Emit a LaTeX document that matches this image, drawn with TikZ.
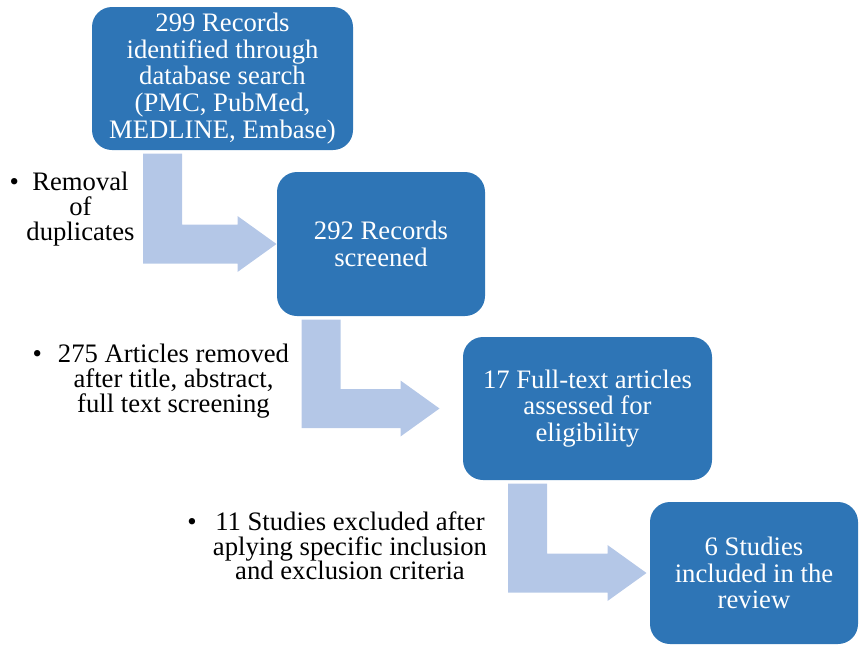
\documentclass[tikz,border=0pt]{standalone}
\usepackage{fontspec}
\setmainfont{Liberation Serif}
\usetikzlibrary{calc}

\definecolor{stageblue}{RGB}{46,117,182}
\definecolor{arrowblue}{RGB}{180,199,231}

\tikzset{every picture/.style={line width=0.75pt}}
\tikzset{
  stage/.style={fill=stageblue, rounded corners=15pt, text=white, align=center,
    inner sep=0pt, font=\fontsize{20}{20}\selectfont},
  note/.style={align=center, inner sep=0pt, font=\fontsize{20}{18.5}\selectfont},
  bentarrow/.style={fill=arrowblue, draw=none}
}

% fat L-shaped arrow: from below #1 round to the left side of #2, tip #3 short of it
\newcommand{\stagearrow}[3]{%
  \fill[bentarrow] ($(#1.south)+(-79.5,3)$) -- ($(#1.south)+(-40.5,3)$)
    |- ($(#2.west)+(-39-#3,-19.5)$) -- ++(0,-8.5) -- ($(#2.west)+(-#3,0)$)
    -- ($(#2.west)+(-39-#3,28)$) -- ++(0,-8.5)
    -| ($(#1.south)+(-79.5,3)$) -- cycle;}

\begin{document}
\begin{tikzpicture}[x=0.75pt,y=0.75pt,yscale=-1,xscale=1]
\useasboundingbox (0,0) rectangle (861,644);

%Stages
\node (search) at (222.5,78.5) [stage, minimum width=195.75pt, minimum height=107.25pt]
  {299 Records\\identified through\\database search\\(PMC, PubMed,\\MEDLINE, Embase)};
\node (screened) at (381,244) [stage, minimum width=156pt, minimum height=108pt]
  {292 Records\\screened};
\node (fulltext) at (587.5,408.5) [stage, minimum width=186.75pt, minimum height=107.25pt]
  {17 Full-text articles\\assessed for\\eligibility};
\node (included) at (754,573) [stage, minimum width=156pt, minimum height=106.5pt]
  {6 Studies\\included in the\\review};

%Arrows between stages
\stagearrow{search}{screened}{0}
\stagearrow{screened}{fulltext}{23}
\stagearrow{fulltext}{included}{3}

%Exclusion notes
\node (dupes) at (80.5,209) [note]
  {\llap{\textbullet\hspace{10pt}}Removal\\of\\duplicates};
\node (removed) at (173.5,381) [note]
  {\llap{\textbullet\hspace{12pt}}275 Articles removed\\after title, abstract,\\full text screening};
\node (excluded) at (350,546) [note]
  {\llap{\textbullet\hspace{14pt}}11 Studies excluded after\\aplying specific inclusion\\and exclusion criteria};
\end{tikzpicture}
\end{document}
